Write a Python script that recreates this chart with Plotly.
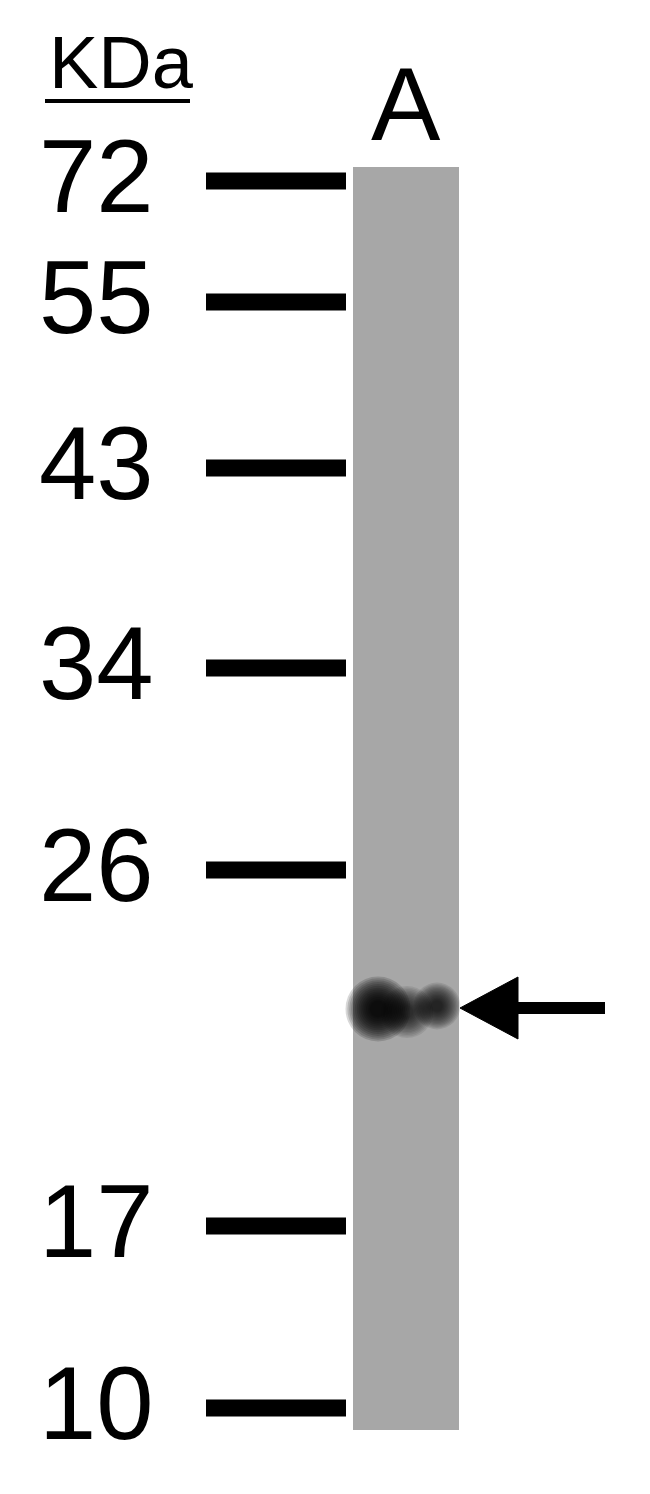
import plotly.graph_objects as go

# marker ladder (kDa) and where each marker sits down the blot (px from top)
marker_kda = ["72", "55", "43", "34", "26", "17", "10"]
marker_y = [181, 302, 468, 668, 870, 1226, 1408]

# lane A
lane_label = "A"
lane_center = 406
lane_width = 106
lane_top = 167
lane_bottom = 1430

# detected band in lane A: strong left lobe, weaker middle and right lobes
band_x = [378, 407, 437]
band_y = [1009, 1012, 1006]
band_size = [50, 40, 36]
band_alpha = [0.22, 0.12, 0.14]

W, H = 650, 1494
PAD = 8  # the page body margin, taken off the plot so pixels line up
FONT = "Liberation Sans, Arial, sans-serif"

fig = go.Figure()

# lane background
fig.add_trace(go.Bar(
    x=[lane_center], y=[lane_bottom - lane_top], base=[lane_top],
    width=[lane_width], marker=dict(color="#a7a7a7", line=dict(width=0)),
    hoverinfo="skip", showlegend=False,
))

# marker bars
bx, by = [], []
for y in marker_y:
    bx += [206, 346, None]
    by += [y, y, None]
fig.add_trace(go.Scatter(x=bx, y=by, mode="lines",
                         line=dict(color="black", width=17),
                         hoverinfo="skip", showlegend=False))

# marker labels
for lab, y in zip(marker_kda, marker_y):
    fig.add_annotation(x=156, y=y, xref="x", yref="y", text=lab, showarrow=False,
                       xanchor="right", yanchor="middle", yshift=5,
                       font=dict(family=FONT, size=103, color="black"))

# band: soft blobs built from stacked translucent markers
scales = [1.3 - 0.075 * i for i in range(14)]
for scale in scales:
    fig.add_trace(go.Scatter(
        x=band_x, y=band_y, mode="markers",
        marker=dict(size=[s * scale for s in band_size],
                    color=[f"rgba(0,0,0,{a})" for a in band_alpha],
                    line=dict(width=0)),
        hoverinfo="skip", showlegend=False,
    ))

# arrow pointing at the band
tip_x = lane_center + lane_width / 2 + 1
tip_y = band_y[2] + 2
fig.add_trace(go.Scatter(
    x=[tip_x, tip_x + 58, tip_x + 58, tip_x],
    y=[tip_y, tip_y - 31, tip_y + 31, tip_y],
    mode="lines", fill="toself", fillcolor="black",
    line=dict(color="black", width=1), hoverinfo="skip", showlegend=False,
))
fig.add_trace(go.Scatter(x=[tip_x + 50, tip_x + 145], y=[tip_y, tip_y], mode="lines",
                         line=dict(color="black", width=12),
                         hoverinfo="skip", showlegend=False))

# header texts
fig.add_annotation(x=47, y=106, xref="x", yref="y", text="KDa", showarrow=False,
                   xanchor="left", yanchor="bottom",
                   font=dict(family=FONT, size=74, color="black"))
fig.add_shape(type="line", x0=45, x1=190, y0=101, y1=101, xref="x", yref="y",
              line=dict(color="black", width=4))
fig.add_annotation(x=lane_center, y=164, xref="x", yref="y", text=lane_label,
                   showarrow=False, xanchor="center", yanchor="bottom",
                   font=dict(family=FONT, size=104, color="black"))

fig.update_layout(
    width=W - PAD, height=H - PAD, margin=dict(l=0, r=0, t=0, b=0),
    paper_bgcolor="white", plot_bgcolor="white",
    xaxis=dict(range=[PAD, W], visible=False, fixedrange=True),
    yaxis=dict(range=[H, PAD], visible=False, fixedrange=True),
    bargap=0,
)

fig.write_html("out.html")
